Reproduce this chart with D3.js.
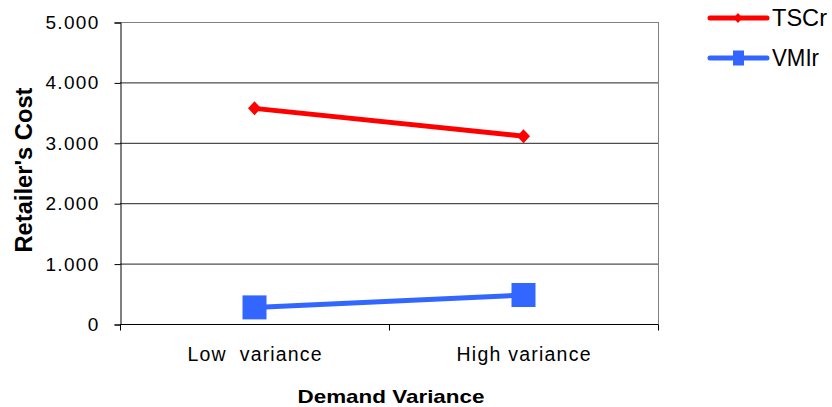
<!DOCTYPE html>
<html>
<head>
<meta charset="utf-8">
<script src="https://cdn.jsdelivr.net/npm/d3@7"></script>
<style>
  html, body { margin: 0; padding: 0; background: #fff; }
  svg { display: block; font-family: "Liberation Sans", Arial, sans-serif; }
</style>
</head>
<body>
<svg id="chart" width="832" height="407"></svg>
<script>
// Retailer's cost under two demand-variance scenarios
const categories = ["Low  variance", "High variance"];
const seriesNames = ["TSCr", "VMIr"];
const tscr = [3570, 3110];
const vmir = [275, 480];
const yTicks = [0, 1000, 2000, 3000, 4000, 5000];
const yTickLabels = ["0", "1.000", "2.000", "3.000", "4.000", "5.000"];

const svg = d3.select("#chart");
const plot = { left: 120, top: 22, right: 658, bottom: 324 };

const x = d3.scaleBand().domain(categories).range([plot.left, plot.right]);
const y = d3.scaleLinear().domain([0, 5000]).range([plot.bottom, plot.top]);

// gridlines
svg.append("g").selectAll("line").data(yTicks.slice(1)).join("line")
  .attr("x1", plot.left).attr("x2", plot.right)
  .attr("y1", d => y(d) + 0.5).attr("y2", d => y(d) + 0.5)
  .attr("stroke", (d, i, a) => i === a.length - 1 ? "#808080" : "#222")
  .attr("stroke-width", 1);

// right border of plot area
svg.append("line")
  .attr("x1", plot.right + 0.5).attr("x2", plot.right + 0.5)
  .attr("y1", plot.top).attr("y2", plot.bottom)
  .attr("stroke", "#808080");

// y axis
const yAxis = d3.axisLeft(y).tickValues(yTicks)
  .tickFormat((d, i) => yTickLabels[i]).tickSize(6).tickPadding(15);
const gy = svg.append("g").attr("transform", `translate(${plot.left + 0.5},0.5)`).call(yAxis);
gy.select(".domain").attr("stroke", "#000");
gy.selectAll(".tick line").attr("stroke", "#000");
gy.selectAll("text").attr("font-size", 19).attr("fill", "#000")
  .attr("letter-spacing", 1.3)
  .attr("font-family", "Liberation Sans, Arial, sans-serif");

// x axis
const xAxis = d3.axisBottom(x).tickSize(0).tickPadding(23);
const gx = svg.append("g").attr("transform", `translate(0,${plot.bottom + 0.5})`).call(xAxis);
gx.select(".domain").attr("stroke", "#000").attr("d", `M${plot.left},0H${plot.right + 0.5}`);
gx.selectAll("text").attr("font-size", 19.5).attr("fill", "#000")
  .attr("font-family", "Liberation Sans, Arial, sans-serif")
  .attr("textLength", 134).attr("lengthAdjust", "spacing")
  .style("white-space", "pre");
// category boundary tick marks
const bounds = [plot.left, plot.left + x.bandwidth(), plot.right];
gx.append("g").selectAll("line").data(bounds).join("line")
  .attr("x1", d => d + 0.5).attr("x2", d => d + 0.5)
  .attr("y1", 0).attr("y2", 6).attr("stroke", "#000");

// axis titles
svg.append("text")
  .attr("x", 391).attr("y", 403)
  .attr("text-anchor", "middle").attr("font-size", 19).attr("font-weight", "bold")
  .attr("textLength", 187).attr("lengthAdjust", "spacingAndGlyphs")
  .text("Demand Variance");
svg.append("text")
  .attr("transform", `translate(32,170) rotate(-90)`)
  .attr("text-anchor", "middle").attr("font-size", 24).attr("font-weight", "bold")
  .attr("textLength", 165).attr("lengthAdjust", "spacingAndGlyphs")
  .text("Retailer's Cost");

const cx = d => x(d) + x.bandwidth() / 2;
const line = d3.line().x(d => cx(d.c)).y(d => y(d.v));
const series = [
  { name: seriesNames[0], values: tscr, color: "#FF0000" },
  { name: seriesNames[1], values: vmir, color: "#3366FF" }
];

series.forEach((s, si) => {
  const pts = categories.map((c, i) => ({ c, v: s.values[i] }));
  svg.append("path").datum(pts).attr("d", line)
    .attr("fill", "none").attr("stroke", s.color).attr("stroke-width", 5);
  const g = svg.append("g");
  if (si === 0) {
    g.selectAll("path").data(pts).join("path")
      .attr("transform", d => `translate(${cx(d.c)},${y(d.v)})`)
      .attr("d", "M0,-7L6.5,0L0,7L-6.5,0Z").attr("fill", s.color);
  } else {
    g.selectAll("rect").data(pts).join("rect")
      .attr("x", d => cx(d.c) - 12).attr("y", d => y(d.v) - 12)
      .attr("width", 24).attr("height", 24).attr("fill", s.color);
  }
});

// legend
const legend = svg.append("g");
series.forEach((s, i) => {
  const ly = 18 + i * 40;
  legend.append("line").attr("x1", 710).attr("x2", 767).attr("y1", ly).attr("y2", ly)
    .attr("stroke", s.color).attr("stroke-width", 5).attr("stroke-linecap", "round");
  if (i === 0) {
    legend.append("path").attr("transform", `translate(738,${ly})`)
      .attr("d", "M0,-5L4.5,0L0,5L-4.5,0Z").attr("fill", s.color);
  } else {
    legend.append("rect").attr("x", 733).attr("y", ly - 7.5).attr("width", 11).attr("height", 15)
      .attr("fill", s.color);
  }
  legend.append("text").attr("x", 772).attr("y", ly).attr("dy", "0.35em")
    .attr("font-size", 24).attr("fill", "#000").attr("textLength", i === 0 ? 55 : 47)
    .attr("lengthAdjust", "spacingAndGlyphs").text(s.name);
});
</script>
</body>
</html>
